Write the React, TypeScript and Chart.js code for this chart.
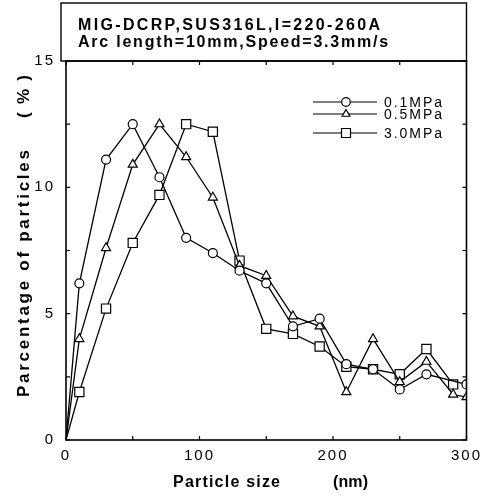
import React, { useEffect, useRef } from 'react';
import { Chart, registerables } from 'chart.js';

Chart.register(...registerables);

// ---- data ----
const particleSizes = [0, 10, 30, 50, 70, 90, 110, 130, 150, 170, 190, 210, 230, 250, 270, 290, 300];
const pct01MPa = [0, 6.2, 11.1, 12.5, 10.4, 8.0, 7.4, 6.7, 6.2, 4.5, 4.8, 3.0, 2.8, 2.0, 2.6, null, 2.2];
const pct05MPa = [0, 4.0, 7.6, 10.9, 12.5, 11.2, 9.6, 6.9, 6.5, 4.9, 4.5, 1.9, 4.0, 2.3, 3.1, 1.8, 1.7];
const pct30MPa = [0, 1.9, 5.2, 7.8, 9.7, 12.5, 12.2, 7.1, 4.4, 4.2, 3.7, 2.9, 2.8, 2.6, 3.6, 2.2, null];
const seriesLabels = ['0.1MPa', '0.5MPa', '3.0MPa'];
const seriesMarkers = ['circle', 'triangle', 'rect'];
const xTickValues = [0, 100, 200, 300];
const yTickValues = [0, 5, 10, 15];
const titleLines = ['MIG-DCRP,SUS316L,I=220-260A', 'Arc length=10mm,Speed=3.3mm/s'];
const xTitleParts = ['Particle size', '(nm)'];
const yTitleParts = ['Parcentage of particles', '(%)'];

const FONT = "'Liberation Sans', Arial, sans-serif";

function toPoints(values: (number | null)[]) {
  const pts: { x: number; y: number }[] = [];
  values.forEach((v, i) => {
    if (v !== null) pts.push({ x: particleSizes[i], y: v });
  });
  return pts;
}

function fitText(ctx: CanvasRenderingContext2D, text: string, x: number, y: number, width: number) {
  ctx.letterSpacing = '0px';
  const w = ctx.measureText(text).width;
  const n = Math.max(1, text.length - 1);
  const sp = (width - w) / n;
  ctx.letterSpacing = sp.toFixed(2) + 'px';
  ctx.textAlign = 'left';
  ctx.fillText(text, x, y);
  ctx.letterSpacing = '0px';
}

function drawMarker(ctx: CanvasRenderingContext2D, style: string, x: number, y: number) {
  ctx.beginPath();
  if (style === 'circle') {
    ctx.arc(x, y, 4.3, 0, Math.PI * 2);
  } else if (style === 'triangle') {
    const r = 4.5;
    ctx.moveTo(x, y - r);
    ctx.lineTo(x + r * 0.866, y + r * 0.5);
    ctx.lineTo(x - r * 0.866, y + r * 0.5);
    ctx.closePath();
  } else {
    ctx.rect(x - 4.5, y - 4.5, 9, 9);
  }
  ctx.fillStyle = '#fff';
  ctx.fill();
  ctx.stroke();
}

const decorPlugin = {
  id: 'decor',
  beforeDraw(chart: any) {
    chart.ctx.letterSpacing = '2px';
  },
  afterDraw(chart: any) {
    const ctx: CanvasRenderingContext2D = chart.ctx;
    const { left, right, top, bottom } = chart.chartArea;
    const xs = chart.scales.x;
    const ys = chart.scales.y;
    ctx.save();
    ctx.letterSpacing = '0px';
    ctx.strokeStyle = '#000';
    ctx.fillStyle = '#000';

    // plot frame
    ctx.lineWidth = 1.6;
    ctx.strokeRect(left, top, right - left, bottom - top);

    // title box
    ctx.lineWidth = 1.4;
    ctx.strokeRect(left - 5, 3, right - left + 5, top - 3);

    // inward tick marks
    ctx.lineWidth = 1.2;
    ctx.beginPath();
    for (let v = xs.min; v <= xs.max + 1e-9; v += 50) {
      const px = xs.getPixelForValue(v);
      ctx.moveTo(px, bottom);
      ctx.lineTo(px, bottom - 4);
      ctx.moveTo(px, top);
      ctx.lineTo(px, top + 4);
    }
    for (let v = ys.min; v <= ys.max + 1e-9; v += 2.5) {
      const py = ys.getPixelForValue(v);
      ctx.moveTo(left, py);
      ctx.lineTo(left + 4, py);
      ctx.moveTo(right, py);
      ctx.lineTo(right - 4, py);
    }
    ctx.stroke();

    // title text
    ctx.textBaseline = 'alphabetic';
    ctx.font = `bold 16px ${FONT}`;
    fitText(ctx, titleLines[0], 78, 30, 302);
    fitText(ctx, titleLines[1], 78, 46.5, 310);

    // axis titles
    ctx.font = `bold 16px ${FONT}`;
    fitText(ctx, xTitleParts[0], 173, 487, 107);
    fitText(ctx, xTitleParts[1], 333, 487, 35);
    ctx.save();
    ctx.translate(29, 397);
    ctx.rotate(-Math.PI / 2);
    ctx.font = `bold 17px ${FONT}`;
    fitText(ctx, yTitleParts[0], 0, 0, 247);
    fitText(ctx, yTitleParts[1], 397 - 118, 0, 43);
    ctx.restore();

    // legend
    const rows = [102, 114, 133];
    ctx.font = `14px ${FONT}`;
    ctx.textBaseline = 'middle';
    ctx.lineWidth = 1.2;
    rows.forEach((ry, i) => {
      ctx.beginPath();
      ctx.moveTo(313, ry);
      ctx.lineTo(377, ry);
      ctx.stroke();
      drawMarker(ctx, seriesMarkers[i], 346, ry);
      ctx.fillStyle = '#000';
      fitText(ctx, seriesLabels[i], 384, ry + 1, 58);
    });
    ctx.restore();
  },
};

export default function App() {
  const canvasRef = useRef<HTMLCanvasElement | null>(null);

  useEffect(() => {
    if (!canvasRef.current) return;
    const seriesValues = [pct01MPa, pct05MPa, pct30MPa];
    const radii = [4.5, 5.2, 6.5];
    const chart = new Chart(canvasRef.current, {
      type: 'line',
      data: {
        datasets: seriesValues.map((vals, i) => ({
          label: seriesLabels[i],
          data: toPoints(vals),
          borderColor: '#000',
          borderWidth: 1.3,
          backgroundColor: '#fff',
          pointBackgroundColor: '#fff',
          pointBorderColor: '#000',
          pointBorderWidth: 1.2,
          pointStyle: seriesMarkers[i] as any,
          pointRadius: (c: any) => (c.dataIndex === 0 ? 0 : radii[i]),
          pointHoverRadius: (c: any) => (c.dataIndex === 0 ? 0 : radii[i]),
          tension: 0,
          fill: false,
        })),
      },
      options: {
        responsive: false,
        animation: false,
        events: [],
        layout: { padding: { left: 0, right: 18, top: 61, bottom: 0 } },
        plugins: {
          legend: { display: false },
          tooltip: { enabled: false },
          title: { display: false },
        },
        scales: {
          x: {
            type: 'linear',
            min: 0,
            max: 300,
            grid: { display: false, drawTicks: false },
            border: { display: false },
            afterBuildTicks: (scale: any) => {
              scale.ticks = xTickValues.map((v) => ({ value: v }));
            },
            afterFit: (scale: any) => {
              scale.height = 58;
            },
            ticks: {
              autoSkip: false,
              maxRotation: 0,
              padding: 7,
              color: '#000',
              font: { family: FONT, size: 15 },
            },
          },
          y: {
            type: 'linear',
            min: 0,
            max: 15,
            grid: { display: false, drawTicks: false },
            border: { display: false },
            afterBuildTicks: (scale: any) => {
              scale.ticks = yTickValues.map((v) => ({ value: v }));
            },
            afterFit: (scale: any) => {
              scale.width = 66;
            },
            ticks: {
              autoSkip: false,
              padding: 11,
              color: '#000',
              font: { family: FONT, size: 15 },
            },
          },
        },
      },
      plugins: [decorPlugin],
    });
    return () => chart.destroy();
  }, []);

  return (
    <div style={{ position: 'absolute', left: 0, top: 0, width: 486, height: 498, background: '#fff' }}>
      <canvas ref={canvasRef} width={486} height={498} />
    </div>
  );
}
